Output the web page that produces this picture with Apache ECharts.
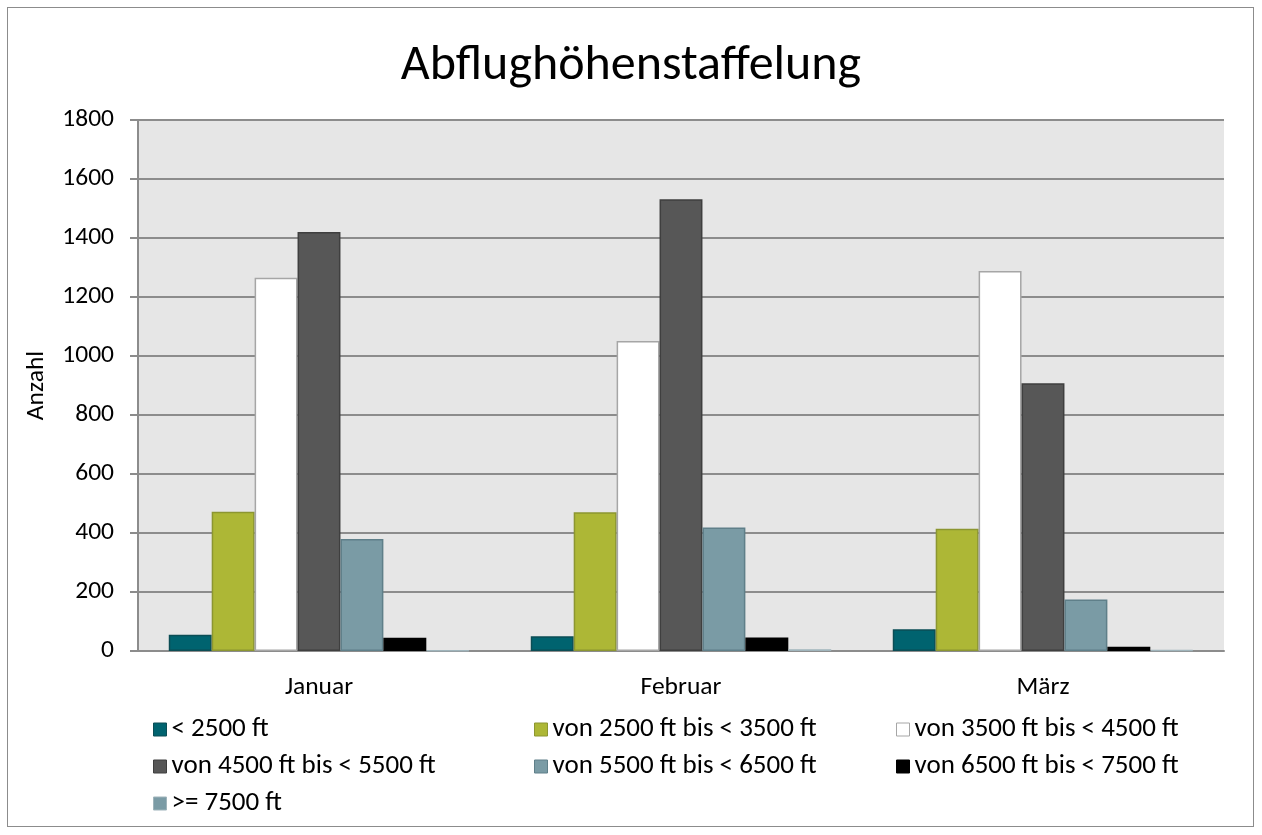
<!DOCTYPE html>
<html>
<head>
<meta charset="utf-8">
<script src="https://cdn.jsdelivr.net/npm/echarts@6/dist/echarts.min.js"></script>
<style>
html,body{margin:0;padding:0;background:#fff;}
#frame{position:absolute;left:7px;top:7px;width:1247px;height:820px;border:1px solid #8c8c8c;box-sizing:border-box;}
#chart{position:absolute;left:0;top:0;width:1262px;height:835px;}
</style>
</head>
<body>
<div id="frame"></div>
<div id="chart"></div>
<script>
const categories = ['Januar', 'Februar', 'März'];
const seriesNames = ['< 2500 ft', 'von 2500 ft bis < 3500 ft', 'von 3500 ft bis < 4500 ft', 'von 4500 ft bis < 5500 ft', 'von 5500 ft bis < 6500 ft', 'von 6500 ft bis < 7500 ft', '>= 7500 ft'];
const s1 = [55, 50, 74];
const s2 = [472, 470, 414];
const s3 = [1265, 1051, 1288];
const s4 = [1420, 1531, 908];
const s5 = [380, 419, 175];
const s6 = [45, 46, 14];
const s7 = [2, 6, 3];
const yTicks = [0, 200, 400, 600, 800, 1000, 1200, 1400, 1600, 1800];

const values = [s1, s2, s3, s4, s5, s6, s7];
const fills = ['#00636f', '#adb736', '#ffffff', '#575757', '#7a9ba5', '#000000', '#7a9ba5'];
const borders = ['#0b4d55', '#8c9631', '#a6a6a6', '#3f3f3f', '#5f7f89', '#000000', '#9fb4bb'];

const chart = echarts.init(document.getElementById('chart'), null, {renderer: 'canvas'});
const font = 'Carlito, Calibri, Lato, sans-serif';
const fs = 25.5;
const lfs = 27;

function legendCol(left, names) {
  return {
    orient: 'vertical',
    left: left,
    top: 716,
    itemWidth: 13,
    itemHeight: 13,
    itemGap: 10,
    icon: 'rect',
    padding: 0,
    selectedMode: false,
    textStyle: {fontSize: lfs, lineHeight: 27, color: '#000', fontFamily: font},
    data: names.map(n => {
      const i = seriesNames.indexOf(n);
      return {name: n, itemStyle: {color: fills[i], borderColor: i === 2 ? '#a6a6a6' : borders[i], borderWidth: 1}};
    })
  };
}

chart.setOption({
  animation: false,
  textStyle: {fontFamily: font},
  title: {
    text: 'Abflughöhenstaffelung',
    left: 'center',
    top: 41,
    padding: 0,
    textStyle: {fontSize: 50, fontWeight: 'normal', color: '#000', fontFamily: font}
  },
  grid: {left: 138, right: 38, top: 120, bottom: 184, containLabel: false, backgroundColor: '#e6e6e6', show: true, borderWidth: 0},
  legend: [
    legendCol(153, [seriesNames[0], seriesNames[3], seriesNames[6]]),
    legendCol(534, [seriesNames[1], seriesNames[4]]),
    legendCol(896, [seriesNames[2], seriesNames[5]])
  ],
  xAxis: {
    type: 'category',
    data: categories,
    axisLine: {lineStyle: {color: '#8c8c8c', width: 2}},
    axisTick: {show: false},
    axisLabel: {fontSize: fs, color: '#000', margin: 24, fontFamily: font}
  },
  yAxis: {
    type: 'value',
    min: yTicks[0],
    max: yTicks[yTicks.length - 1],
    interval: 200,
    name: 'Anzahl',
    nameLocation: 'middle',
    nameGap: 88,
    nameTextStyle: {fontSize: fs, color: '#000', fontFamily: font},
    axisLine: {show: true, lineStyle: {color: '#8c8c8c', width: 2}},
    axisTick: {show: true, length: 8, lineStyle: {color: '#8c8c8c', width: 2}},
    axisLabel: {fontSize: fs, color: '#000', margin: 24, fontFamily: font, formatter: v => String(v)},
    splitLine: {lineStyle: {color: '#8c8c8c', width: 2}}
  },
  series: values.map((v, i) => ({
    name: seriesNames[i],
    type: 'bar',
    data: v,
    barGap: '0%',
    barCategoryGap: '17%',
    itemStyle: {color: fills[i], borderColor: borders[i], borderWidth: 1.5}
  }))
});
</script>
</body>
</html>
